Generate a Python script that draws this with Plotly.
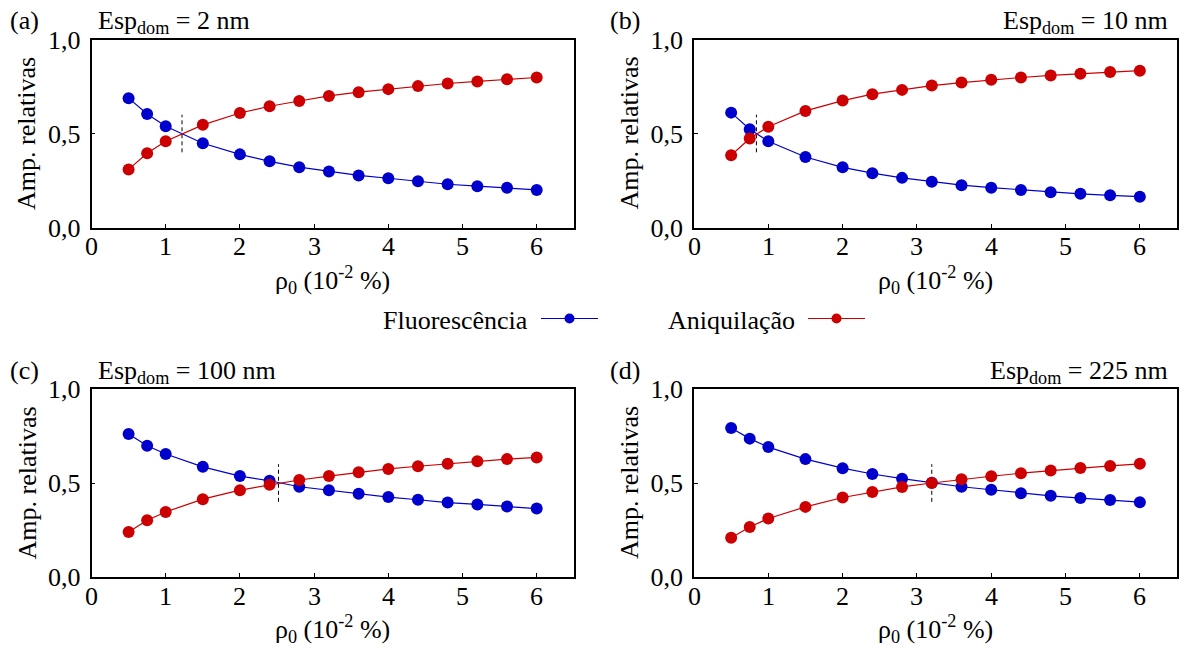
import plotly.graph_objects as go

W, H = 1184, 648

# ---------------- data ----------------
rho = [0.5, 0.75, 1.0, 1.5, 2.0, 2.4, 2.8, 3.2, 3.6, 4.0, 4.4, 4.8, 5.2, 5.6, 6.0]

fluor_a = [0.688, 0.604, 0.539, 0.448, 0.389, 0.352, 0.321, 0.298, 0.277, 0.262, 0.246, 0.230, 0.220, 0.211, 0.200]
aniq_a = [0.309, 0.395, 0.459, 0.546, 0.609, 0.645, 0.673, 0.700, 0.720, 0.736, 0.752, 0.766, 0.777, 0.788, 0.798]

fluor_b = [0.611, 0.523, 0.459, 0.375, 0.320, 0.289, 0.264, 0.243, 0.225, 0.212, 0.200, 0.188, 0.179, 0.171, 0.164]
aniq_b = [0.384, 0.473, 0.536, 0.620, 0.675, 0.709, 0.732, 0.755, 0.771, 0.786, 0.798, 0.809, 0.818, 0.827, 0.834]

fluor_c = [0.761, 0.698, 0.654, 0.586, 0.537, 0.512, 0.480, 0.461, 0.443, 0.425, 0.411, 0.396, 0.386, 0.375, 0.364]
aniq_c = [0.239, 0.302, 0.346, 0.414, 0.462, 0.491, 0.516, 0.537, 0.557, 0.575, 0.589, 0.602, 0.616, 0.627, 0.636]

fluor_d = [0.793, 0.736, 0.691, 0.627, 0.579, 0.548, 0.523, 0.501, 0.480, 0.464, 0.446, 0.432, 0.420, 0.409, 0.398]
aniq_d = [0.209, 0.266, 0.311, 0.373, 0.423, 0.452, 0.479, 0.500, 0.520, 0.536, 0.552, 0.566, 0.580, 0.591, 0.602]

cross_x = [1.22, 0.84, 2.52, 3.2]       # dashed crossing markers
cross_y = [0.4, 0.6]

panel_letters = ["(a)", "(b)", "(c)", "(d)"]
panel_titles = ["Esp<sub>dom</sub> = 2 nm", "Esp<sub>dom</sub> = 10 nm",
                "Esp<sub>dom</sub> = 100 nm", "Esp<sub>dom</sub> = 225 nm"]
series_names = ["Fluorescência", "Aniquilação"]
x_ticks = [0, 1, 2, 3, 4, 5, 6]
x_ticklabels = ["0", "1", "2", "3", "4", "5", "6"]
y_ticks = [0.0, 0.5, 1.0]
y_ticklabels = ["0,0", "0,5", "1,0"]
x_title = "ρ<sub>0</sub> (10<sup>-2</sup> %)"
y_title = "Amp. relativas"

fluor = [fluor_a, fluor_b, fluor_c, fluor_d]
aniq = [aniq_a, aniq_b, aniq_c, aniq_d]

# ---------------- style ----------------
FONT = "Liberation Serif"
FS = 26
BLUE = "#0000cc"
RED = "#cc0000"

# panel pixel boxes: (left, right, top, bottom)
boxes = [(91.5, 573.8, 39.5, 227.5), (694, 1177, 39.5, 227.5),
         (91.5, 573.8, 389, 577), (694, 1177, 389, 577)]

fig = go.Figure()
layout = dict(
    width=W, height=H, margin=dict(l=0, r=0, t=0, b=0),
    paper_bgcolor="white", plot_bgcolor="white",
    showlegend=False, separators=",.",
    font=dict(family=FONT, size=FS, color="black"),
)
annotations = []
shapes = []

for i in range(4):
    L, R, T, B = boxes[i]
    xa = "x" if i == 0 else f"x{i+1}"
    ya = "y" if i == 0 else f"y{i+1}"
    xkey = "xaxis" if i == 0 else f"xaxis{i+1}"
    ykey = "yaxis" if i == 0 else f"yaxis{i+1}"
    layout[xkey] = dict(
        domain=[L / W, R / W], anchor=ya, range=[0, 6.5],
        tickvals=x_ticks, ticks="inside", ticklen=4, tickwidth=1, tickcolor="black",
        showline=True, linecolor="black", linewidth=1.5, mirror=True,
        showgrid=False, zeroline=False, automargin=False, showticklabels=False,
    )
    layout[ykey] = dict(
        domain=[1 - B / H, 1 - T / H], anchor=xa, range=[0, 1],
        tickvals=y_ticks, ticktext=y_ticklabels, ticks="inside", ticklen=4, tickwidth=1,
        tickcolor="black", showline=True, linecolor="black", linewidth=1.5, mirror=True,
        showgrid=False, zeroline=False, automargin=False,
        tickfont=dict(family=FONT, size=FS), ticklabelstandoff=4,
    )
    # x tick labels placed through the x axis scale
    for tv, tt in zip(x_ticks, x_ticklabels):
        annotations.append(dict(text=tt, x=tv, xref=xa, y=1 - (B + 19) / H, yref="paper",
                                xanchor="center", yanchor="middle", showarrow=False,
                                font=dict(size=FS)))
    # dashed crossing line
    fig.add_trace(go.Scatter(
        x=[cross_x[i], cross_x[i]], y=cross_y, xaxis=xa, yaxis=ya, mode="lines",
        line=dict(color="black", width=1, dash="4px,3px"), hoverinfo="skip"))
    fig.add_trace(go.Scatter(
        x=rho, y=fluor[i], xaxis=xa, yaxis=ya, mode="lines+markers", name=series_names[0],
        line=dict(color=BLUE, width=1.2), marker=dict(color=BLUE, size=12)))
    fig.add_trace(go.Scatter(
        x=rho, y=aniq[i], xaxis=xa, yaxis=ya, mode="lines+markers", name=series_names[1],
        line=dict(color=RED, width=1.2), marker=dict(color=RED, size=12)))

    # panel letter
    lx = 8 if i % 2 == 0 else 608
    annotations.append(dict(text=panel_letters[i], x=lx / W, y=1 - (T - 19) / H,
                            xref="paper", yref="paper", xanchor="left", yanchor="middle",
                            showarrow=False, font=dict(size=FS)))
    # panel title
    if i % 2 == 0:
        annotations.append(dict(text=panel_titles[i], x=(L + 4) / W, y=1 - (T - 17) / H,
                                xref="paper", yref="paper", xanchor="left", yanchor="middle",
                                showarrow=False, font=dict(size=FS)))
    else:
        annotations.append(dict(text=panel_titles[i], x=(R - 7) / W, y=1 - (T - 17) / H,
                                xref="paper", yref="paper", xanchor="right", yanchor="middle",
                                showarrow=False, font=dict(size=FS)))
    # axis titles
    annotations.append(dict(text=x_title, x=(L + R) / 2 / W, y=1 - (B + 52) / H,
                            xref="paper", yref="paper", xanchor="center", yanchor="middle",
                            showarrow=False, font=dict(size=FS)))
    annotations.append(dict(text=y_title, x=(L - 65) / W, y=1 - (T + B) / 2 / H,
                            xref="paper", yref="paper", xanchor="center", yanchor="middle",
                            textangle=-90, showarrow=False, font=dict(size=FS)))

# manual legend (text followed by line + marker)
leg_y = 1 - 320 / H
legend_items = [(381, 541, 598, BLUE), (666, 808, 865, RED)]
for (tx, l0, l1, col), name in zip(legend_items, series_names):
    annotations.append(dict(text=name, x=tx / W, y=leg_y, xref="paper", yref="paper",
                            xanchor="left", yanchor="middle", showarrow=False,
                            font=dict(size=FS)))
    shapes.append(dict(type="line", xref="paper", yref="paper",
                       x0=l0 / W, x1=l1 / W, y0=1 - 318.5 / H, y1=1 - 318.5 / H,
                       line=dict(color=col, width=1.2)))
    shapes.append(dict(type="circle", xref="paper", yref="paper",
                       xsizemode="pixel", ysizemode="pixel",
                       xanchor=(l0 + l1) / 2 / W, yanchor=1 - 318.5 / H,
                       x0=-5, x1=5, y0=-5, y1=5, fillcolor=col, line=dict(width=0)))

layout["annotations"] = annotations
layout["shapes"] = shapes
fig.update_layout(**layout)
fig.write_html("out.html")
